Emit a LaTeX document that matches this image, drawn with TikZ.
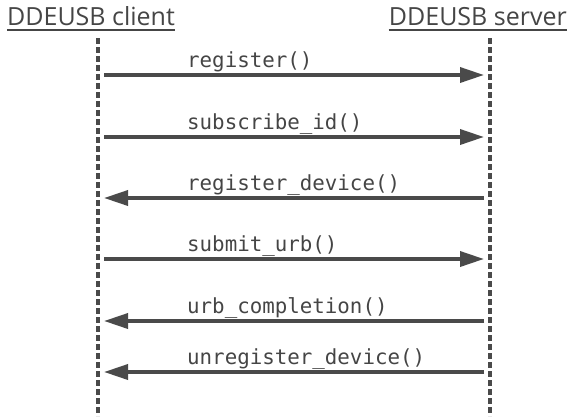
\documentclass[tikz,border=0pt]{standalone}
\usepackage{fontspec}
\setmainfont{Open Sans}
\setmonofont{DejaVu Sans Mono}
\usetikzlibrary{arrows.meta}
\definecolor{ink}{HTML}{4A4A4A}
\definecolor{txt}{HTML}{454545}
\begin{document}
\begin{tikzpicture}[x=1pt,y=-1pt,
  lifeline/.style={draw=ink,line width=3.6pt,dash pattern=on 6pt off 3pt},
  msg/.style={draw=ink,line width=3.5pt,-{Triangle[length=24pt,width=15pt]}},
  title/.style={font=\fontsize{25}{29}\selectfont,text=txt,inner sep=0pt},
  uline/.style={draw=txt,line width=1.4pt},
  lbl/.style={font=\ttfamily\fontsize{20.8}{24}\selectfont,text=txt,inner sep=0pt,anchor=base west}]
\useasboundingbox (0,0) rectangle (571,416);
% titles
\node[title,anchor=base west] (tc) at (7,25) {DDEUSB client};
\node[title,anchor=base east] (ts) at (567,25) {DDEUSB server};
\coordinate (tcl) at (tc.base west); \coordinate (tcr) at (tc.base east);
\coordinate (tsl) at (ts.base west); \coordinate (tsr) at (ts.base east);
\draw[uline] ([yshift=-5pt]tcl) -- ([yshift=-5pt]tcr);
\draw[uline] ([yshift=-5pt]tsl) -- ([yshift=-5pt]tsr);
% lifelines
\coordinate (ct) at (98,38); \coordinate (cb) at (98,416);
\coordinate (st) at (490,38); \coordinate (sb) at (490,416);
\draw[lifeline] (ct) -- (cb);
\draw[lifeline] (st) -- (sb);
% message ends
\foreach \n/\y in {1/75,2/137,3/198,4/259,5/321,6/372}{
  \coordinate (l\n) at (104,\y);
  \coordinate (r\n) at (484,\y);
}
\draw[msg] (l1) -- (r1);
\draw[msg] (l2) -- (r2);
\draw[msg] (r3) -- (l3);
\draw[msg] (l4) -- (r4);
\draw[msg] (r5) -- (l5);
\draw[msg] (r6) -- (l6);
\node[lbl] (m1) at (187,67) {register()};
\node[lbl] (m2) at (187,129) {subscribe\_id()};
\node[lbl] (m3) at (187,190) {register\_device()};
\node[lbl] (m4) at (187,251) {submit\_urb()};
\node[lbl] (m5) at (187,313) {urb\_completion()};
\node[lbl] (m6) at (187,364) {unregister\_device()};
\end{tikzpicture}
\end{document}
